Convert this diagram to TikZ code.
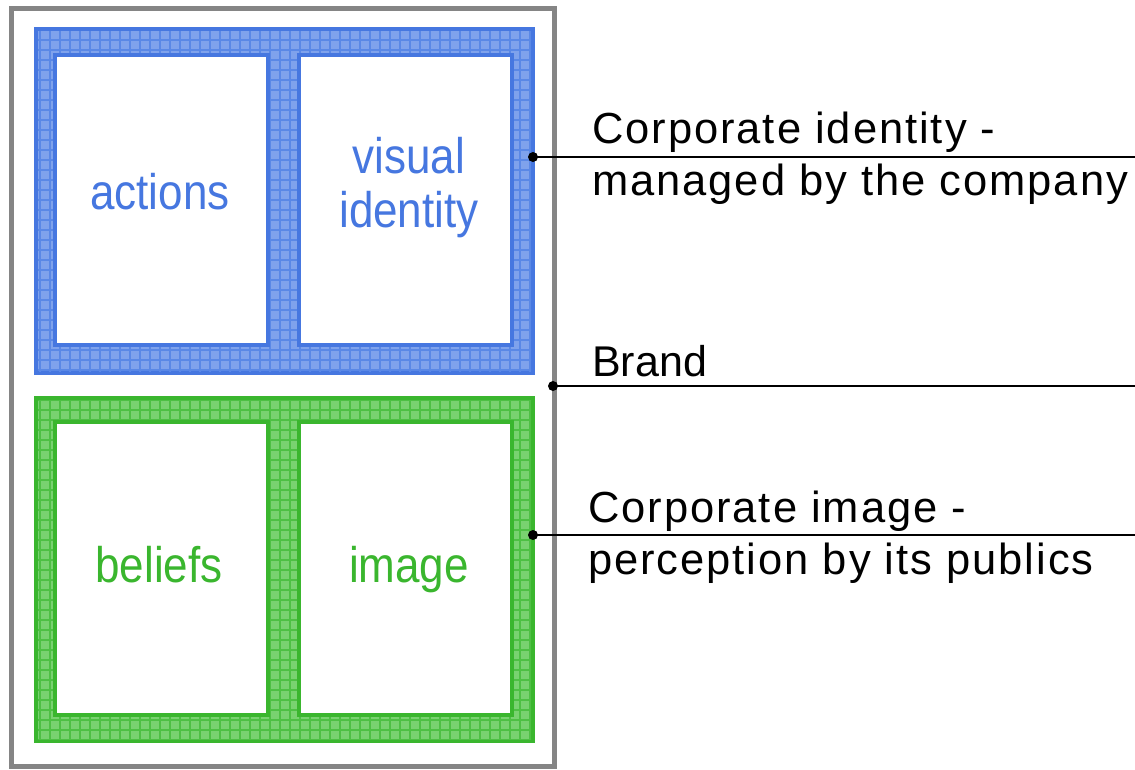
\documentclass[tikz,border=0pt]{standalone}
\usepackage{fontspec}
\setmainfont{Liberation Sans}
\newfontfamily\boxfont[FakeStretch=0.88]{Liberation Sans}
\newfontfamily\sidefont[LetterSpace=4.5]{Liberation Sans}

\definecolor{outlinegray}{HTML}{858585}
\definecolor{idstroke}{HTML}{4677E0}
\definecolor{idfill}{HTML}{7FA2EC}
\definecolor{idgrid}{HTML}{5A88E6}
\definecolor{imstroke}{HTML}{3AB62E}
\definecolor{imfill}{HTML}{79D270}
\definecolor{imgrid}{HTML}{4EC044}

\tikzset{
  box/.style={rectangle, inner sep=0pt, outer sep=0pt, anchor=north west},
  frame/.style={box, line width=4pt},
  panel/.style={box, line width=4pt, fill=white},
  boxtext/.style={inner sep=0pt, font=\boxfont\fontsize{50}{54}\selectfont, align=center},
  sidetext/.style={inner sep=0pt, font=\sidefont\fontsize{43.5}{52}\selectfont, align=left, anchor=north west},
  leader/.style={line width=2pt, black},
  dot/.style={black}
}

\begin{document}
\begin{tikzpicture}[x=1pt, y=-1pt]
\useasboundingbox (0,0) rectangle (1135,769);

% brand outline
\node[box, draw=outlinegray, line width=5pt, minimum width=543, minimum height=758] (brand) at (11,8) {};

% corporate identity band
\node[frame, draw=idstroke, fill=idfill, minimum width=497, minimum height=344] (idframe) at (36,29) {};
\begin{scope}
  \clip ([shift={(2,2)}]idframe.north west) rectangle ([shift={(-2,-2)}]idframe.south east);
  \draw[idgrid, line width=1.2pt] (0,0) grid[step=10pt] (560,400);
\end{scope}
\node[panel, draw=idstroke, minimum width=213, minimum height=290] (actions) at (55,55) {};
\node[panel, draw=idstroke, minimum width=213, minimum height=290] (visual) at (299,55) {};

% corporate image band
\node[frame, draw=imstroke, fill=imfill, minimum width=497, minimum height=343] (imframe) at (36,398) {};
\begin{scope}
  \clip ([shift={(2,2)}]imframe.north west) rectangle ([shift={(-2,-2)}]imframe.south east);
  \draw[imgrid, line width=1.2pt] (0,390) grid[step=10pt] (560,750);
\end{scope}
\node[panel, draw=imstroke, minimum width=213, minimum height=293] (beliefs) at (55,422) {};
\node[panel, draw=imstroke, minimum width=213, minimum height=293] (image) at (299,422) {};

% panel labels
\node[boxtext, text=idstroke, anchor=base] (actionstext) at (160,209) {actions};
\node[boxtext, text=idstroke, anchor=north] (visualtext) at (409,137) {visual\\identity};
\node[boxtext, text=imstroke, anchor=base] (beliefstext) at (159,582) {beliefs};
\node[boxtext, text=imstroke, anchor=base] (imagetext) at (409,582) {image};

% side labels
\node[sidetext] (idlabel) at (592,112) {Corporate identity -\\managed by the company};
\node[inner sep=0pt, font=\fontsize{43}{51}\selectfont, anchor=base west] (brandlabel) at (592,376) {Brand};
\node[sidetext] (imlabel) at (588,491) {Corporate image -\\perception by its publics};

% leader lines
\coordinate (idend) at (1135,157);
\coordinate (brandend) at (1135,386);
\coordinate (imend) at (1135,535);
\coordinate (iddot) at (idframe.east |- idend);
\coordinate (branddot) at ([xshift=-1pt]brand.east |- brandend);
\coordinate (imdot) at (imframe.east |- imend);
\draw[leader] (iddot) -- (idend);
\draw[leader] (branddot) -- (brandend);
\draw[leader] (imdot) -- (imend);
\fill[dot] (iddot) circle (5);
\fill[dot] (branddot) circle (5);
\fill[dot] (imdot) circle (5);
\end{tikzpicture}
\end{document}
